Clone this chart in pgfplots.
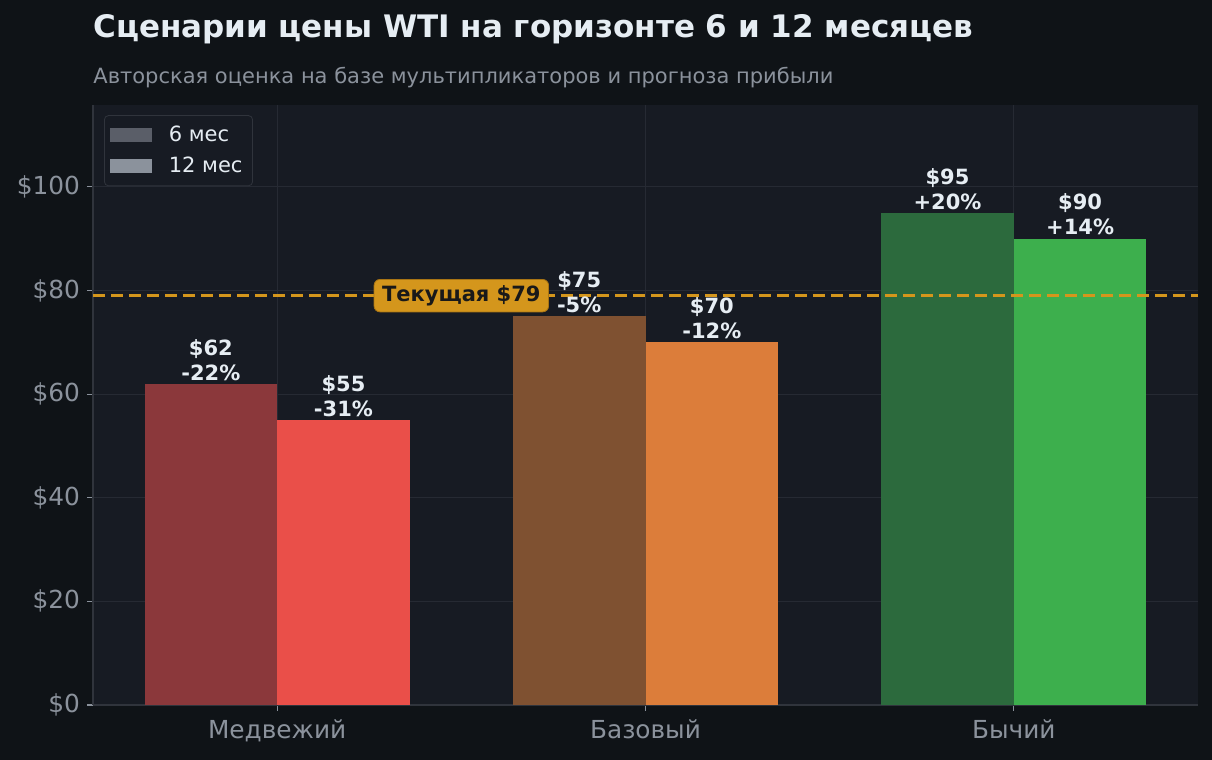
\documentclass[border=0pt]{standalone}
\usepackage{fontspec}
\setmainfont{DejaVu Sans}
\usepackage{pgfplots}
\pgfplotsset{compat=1.18}

\definecolor{figbg}{HTML}{0F1317}
\definecolor{axbg}{HTML}{171B23}
\definecolor{gridc}{HTML}{262A33}
\definecolor{spinec}{HTML}{30343C}
\definecolor{tickc}{HTML}{8B929C}
\definecolor{titlec}{HTML}{E6EDF3}
\definecolor{bearA}{HTML}{8B383B}
\definecolor{bearB}{HTML}{EA4F49}
\definecolor{baseA}{HTML}{7F5131}
\definecolor{baseB}{HTML}{DC7D3A}
\definecolor{bullA}{HTML}{2C6A3D}
\definecolor{bullB}{HTML}{3DAF4D}
\definecolor{legA}{HTML}{5A5E68}
\definecolor{legB}{HTML}{8B929C}
\definecolor{curc}{HTML}{D4961C}
\definecolor{curdark}{HTML}{A87414}

\pgfplotsset{
  barlabel/.style={
    nodes near coords={#1},
    nodes near coords style={align=center, anchor=south, inner sep=1.5pt,
      text=titlec, font=\fontsize{10.5}{12.5}\selectfont\bfseries},
  },
  legpatch/.style={legend image code/.code={
    \fill[##1, draw=none, sharp corners] (0pt,-3.5pt) rectangle (21pt,3.5pt);
    \path (27pt,0pt);}},
}

\begin{document}
\begin{tikzpicture}
\fill[figbg] (0,0) rectangle (606pt,380pt);
\useasboundingbox (0,0) rectangle (606pt,380pt);
\node[anchor=base west, inner sep=0, text=titlec,
  font=\fontsize{15.5}{18}\selectfont\bfseries] at (46.5pt,361pt)
  {Сценарии цены WTI на горизонте 6 и 12 месяцев};
\node[anchor=base west, inner sep=0, text=tickc,
  font=\fontsize{10.5}{12}\selectfont] at (46.5pt,338pt)
  {Авторская оценка на базе мультипликаторов и прогноза прибыли};

\begin{axis}[
  at={(46.5pt,27.5pt)}, anchor=south west,
  scale only axis, width=552.5pt, height=300pt,
  xmin=-0.5, xmax=2.5, ymin=0, ymax=115.8,
  axis background/.style={fill=axbg},
  axis x line*=bottom, axis y line*=left,
  axis line style={-, draw=spinec, line width=0.7pt},
  xtick={0,1,2}, xticklabels={Медвежий,Базовый,Бычий},
  ytick={0,20,...,100},
  yticklabel={\$\pgfmathprintnumber{\tick}},
  /pgf/number format/assume math mode=true,
  tick align=outside, major tick length=3pt,
  tick style={draw=tickc, line width=0.6pt},
  ticklabel style={text=tickc, font=\fontsize{12.4}{14}\selectfont},
  xticklabel style={yshift=-1pt},
  grid=major, major grid style={draw=gridc, line width=0.6pt},
  legend style={at={(0.01,0.983)}, anchor=north west, fill=axbg,
    draw=spinec, rounded corners=2pt, text=titlec,
    font=\fontsize{10.5}{12}\selectfont, inner sep=3pt, row sep=2.5pt},
  legend cell align=left,
]
% 6 months (left bar of each group)
\addplot[ybar, bar width=0.36, fill=bearA, draw=none,
  forget plot, barlabel={\$62\\-22\%}] coordinates {(-0.18,62)};
\addplot[ybar, bar width=0.36, fill=baseA, draw=none,
  forget plot, barlabel={\$75\\-5\%}] coordinates {(0.82,75)};
\addplot[ybar, bar width=0.36, fill=bullA, draw=none,
  forget plot, barlabel={\$95\\+20\%}] coordinates {(1.82,95)};
% 12 months (right bar of each group)
\addplot[ybar, bar width=0.36, fill=bearB, draw=none,
  forget plot, barlabel={\$55\\-31\%}] coordinates {(0.18,55)};
\addplot[ybar, bar width=0.36, fill=baseB, draw=none,
  forget plot, barlabel={\$70\\-12\%}] coordinates {(1.18,70)};
\addplot[ybar, bar width=0.36, fill=bullB, draw=none,
  forget plot, barlabel={\$90\\+14\%}] coordinates {(2.18,90)};
% current price
\addplot[curc, line width=1.3pt, dash pattern=on 6pt off 3pt, forget plot]
  coordinates {(-0.5,79) (2.5,79)};
\node[fill=curc, draw=curdark, rounded corners=3pt, text=black!90,
  inner xsep=4pt, inner ysep=3pt,
  font=\fontsize{10.5}{12}\selectfont\bfseries] at (axis cs:0.5,79)
  {Текущая \$79};

\addlegendimage{legpatch, fill=legA}
\addlegendentry{6 мес}
\addlegendimage{legpatch, fill=legB}
\addlegendentry{12 мес}
\end{axis}
\end{tikzpicture}
\end{document}
